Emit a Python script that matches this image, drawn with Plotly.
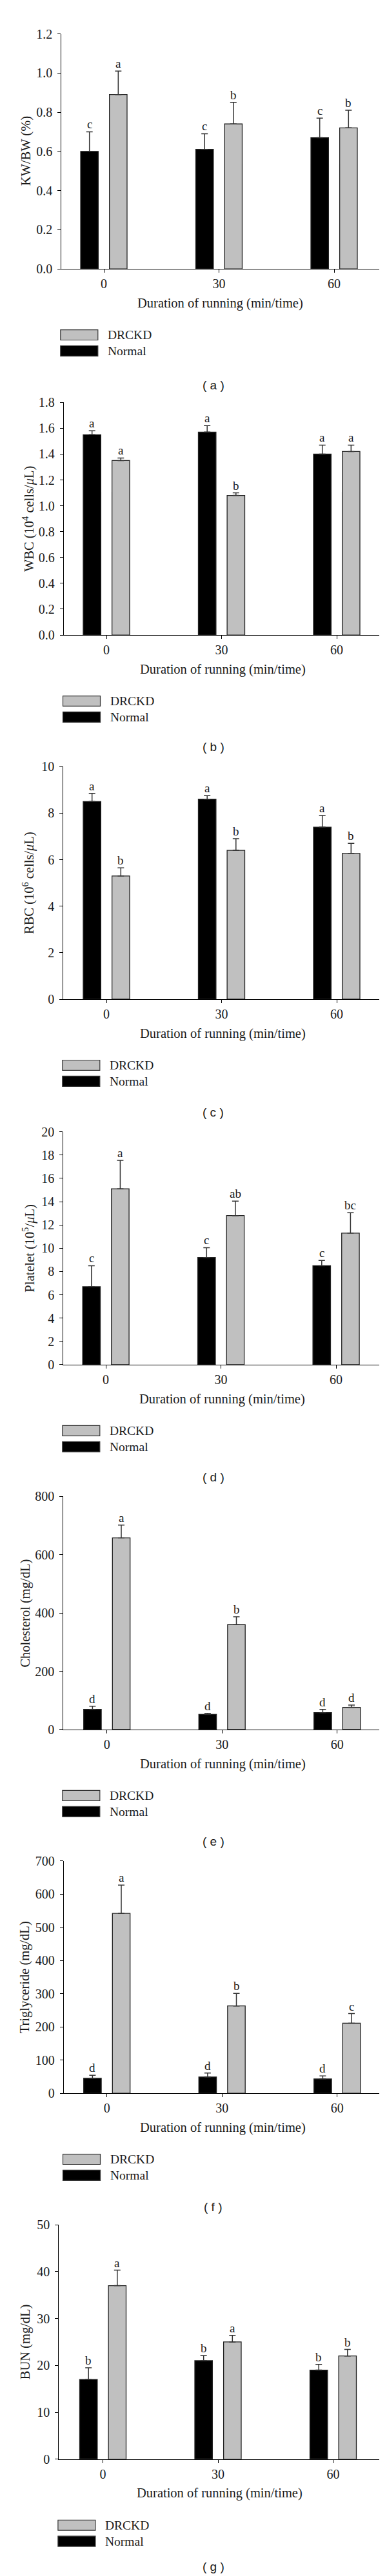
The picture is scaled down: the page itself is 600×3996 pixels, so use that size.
import plotly.graph_objects as go

# ---------------- data ----------------
durations = [0, 30, 60]
series_names = ["Normal", "DRCKD"]
panel_letters = ["a", "b", "c", "d", "e", "f", "g"]

kwbw_normal = [0.60, 0.61, 0.67]
kwbw_normal_err = [0.10, 0.08, 0.10]
kwbw_drckd = [0.89, 0.74, 0.72]
kwbw_drckd_err = [0.12, 0.11, 0.09]
kwbw_normal_sig = ["c", "c", "c"]
kwbw_drckd_sig = ["a", "b", "b"]

wbc_normal = [1.55, 1.57, 1.40]
wbc_normal_err = [0.03, 0.05, 0.07]
wbc_drckd = [1.35, 1.08, 1.42]
wbc_drckd_err = [0.02, 0.02, 0.05]
wbc_normal_sig = ["a", "a", "a"]
wbc_drckd_sig = ["a", "b", "a"]

rbc_normal = [8.50, 8.60, 7.40]
rbc_normal_err = [0.35, 0.15, 0.50]
rbc_drckd = [5.30, 6.40, 6.27]
rbc_drckd_err = [0.35, 0.50, 0.43]
rbc_normal_sig = ["a", "a", "a"]
rbc_drckd_sig = ["b", "b", "b"]

plt_normal = [6.7, 9.2, 8.5]
plt_normal_err = [1.8, 0.85, 0.45]
plt_drckd = [15.1, 12.8, 11.3]
plt_drckd_err = [2.45, 1.25, 1.75]
plt_normal_sig = ["c", "c", "c"]
plt_drckd_sig = ["a", "ab", "bc"]

chol_normal = [69, 52, 58]
chol_normal_err = [11, 4, 11]
chol_drckd = [658, 360, 76]
chol_drckd_err = [44, 27, 8]
chol_normal_sig = ["d", "d", "d"]
chol_drckd_sig = ["a", "b", "d"]

tg_normal = [45, 49, 43]
tg_normal_err = [9, 12, 9]
tg_drckd = [542, 263, 211]
tg_drckd_err = [85, 38, 29]
tg_normal_sig = ["d", "d", "d"]
tg_drckd_sig = ["a", "b", "c"]

bun_normal = [17.0, 21.0, 19.0]
bun_normal_err = [2.5, 1.1, 1.2]
bun_drckd = [37.0, 25.0, 22.0]
bun_drckd_err = [3.3, 1.4, 1.4]
bun_normal_sig = ["b", "b", "b"]
bun_drckd_sig = ["a", "a", "b"]

y_titles = [
    "KW/BW (%)",
    "WBC (10<sup>4</sup> cells/<i>μ</i>L)",
    "RBC (10<sup>6</sup> cells/<i>μ</i>L)",
    "Platelet (10<sup>5</sup>/<i>μ</i>L)",
    "Cholesterol (mg/dL)",
    "Triglyceride (mg/dL)",
    "BUN (mg/dL)",
]
y_max = [1.2, 1.8, 10, 20, 800, 700, 50]
y_dtick = [0.2, 0.2, 2, 2, 200, 100, 10]
y_fmt = [".1f", ".1f", "d", "d", "d", "d", "d"]
x_title = "Duration of running (min/time)"

panels = [
    (kwbw_normal, kwbw_normal_err, kwbw_normal_sig, kwbw_drckd, kwbw_drckd_err, kwbw_drckd_sig),
    (wbc_normal, wbc_normal_err, wbc_normal_sig, wbc_drckd, wbc_drckd_err, wbc_drckd_sig),
    (rbc_normal, rbc_normal_err, rbc_normal_sig, rbc_drckd, rbc_drckd_err, rbc_drckd_sig),
    (plt_normal, plt_normal_err, plt_normal_sig, plt_drckd, plt_drckd_err, plt_drckd_sig),
    (chol_normal, chol_normal_err, chol_normal_sig, chol_drckd, chol_drckd_err, chol_drckd_sig),
    (tg_normal, tg_normal_err, tg_normal_sig, tg_drckd, tg_drckd_err, tg_drckd_sig),
    (bun_normal, bun_normal_err, bun_normal_sig, bun_drckd, bun_drckd_err, bun_drckd_sig),
]

# ---------------- layout geometry (pixels) ----------------
W, H = 600, 3996
plot_top = [33.7, 608.6, 1176.7, 1746.3, 2315.2, 2883.6, 3451.0]
plot_bottom = [400.3, 971.4, 1539.5, 2109.5, 2678.7, 3246.0, 3816.8]
plot_left = [87.3, 91.0, 90.3, 90.3, 90.3, 91.0, 83.4]
tick0_px = [153.0, 157.0, 157.0, 156.1, 157.7, 157.7, 151.5]
ytitle_x = [32.5, 36.4, 36.4, 36.4, 31.4, 31.4, 31.4]
xtitle_x = [333, 337, 337, 336, 337, 337, 332.5]
label_y = [581.7, 1145.5, 1715.5, 2285.5, 2853.6, 3423.0, 3984.0]
plot_right = 580.0
px_per_unit = 5.95
BARGAP = 0.5
BARGROUPGAP = 0.387

SERIF = "Liberation Serif, Times New Roman, serif"
SANS = "Liberation Sans, Arial, sans-serif"
TXT = "#1a1a1a"
GRAY = "#c0c0c0"
EDGE = "#222222"


def px(x):
    return x / W


def py(y):
    return 1 - y / H


fig = go.Figure()
annotations = []
shapes = []

slot = 30 * (1 - BARGAP) / 2
offsets = [-slot / 2, slot / 2]
colors = ["black", GRAY]

for i, p in enumerate(panels):
    k = "" if i == 0 else str(i + 1)
    xa, ya = "x" + k, "y" + k
    vals = [(p[0], p[1], p[2]), (p[3], p[4], p[5])]
    for s, (v, e, sig) in enumerate(vals):
        fig.add_trace(go.Bar(
            x=durations, y=v, name=series_names[s], xaxis=xa, yaxis=ya,
            showlegend=False,
            marker=dict(color=colors[s], line=dict(color=EDGE, width=1.3)),
            error_y=dict(type="data", array=e, arrayminus=[0] * len(e), symmetric=False,
                         color="#333333", thickness=1.5, width=5),
        ))
        for d, val, err, letter in zip(durations, v, e, sig):
            annotations.append(dict(
                x=d + offsets[s], y=val + err, xref=xa, yref=ya, text=letter,
                showarrow=False, xanchor="center", yanchor="bottom", yshift=-1,
                font=dict(family=SERIF, size=19, color=TXT),
            ))

    lo = -(tick0_px[i] - plot_left[i]) / px_per_unit
    hi = (plot_right - tick0_px[i]) / px_per_unit
    axis_common = dict(showline=True, linecolor="black", linewidth=1.3, ticks="outside",
                       ticklen=5, tickwidth=1.2, tickcolor="black", showgrid=False,
                       zeroline=False, tickfont=dict(family=SERIF, size=20, color=TXT))
    fig.layout["xaxis" + k] = dict(
        domain=[px(plot_left[i]), px(plot_right)], range=[lo, hi], anchor=ya,
        tickmode="array", tickvals=durations, ticktext=[str(d) for d in durations],
        **axis_common)
    fig.layout["yaxis" + k] = dict(
        domain=[py(plot_bottom[i]), py(plot_top[i])], range=[0, y_max[i]], anchor=xa,
        dtick=y_dtick[i], tick0=0, tickformat=y_fmt[i], ticklabelstandoff=4,
        **axis_common)

    # y title
    annotations.append(dict(
        x=px(ytitle_x[i]), y=py((plot_top[i] + plot_bottom[i]) / 2), xref="paper", yref="paper",
        text=y_titles[i], textangle=-90, showarrow=False, xanchor="center", yanchor="middle",
        font=dict(family=SERIF, size=20.5, color=TXT)))
    # x title
    annotations.append(dict(
        x=px(xtitle_x[i]), y=py(plot_bottom[i] + 53.5), xref="paper", yref="paper",
        text=x_title, showarrow=False, xanchor="center", yanchor="middle",
        font=dict(family=SERIF, size=20.5, color=TXT)))
    # legend (DRCKD on top, Normal below)
    bl = plot_left[i] - 1.5
    for j, (nm, col) in enumerate([(series_names[1], GRAY), (series_names[0], "black")]):
        top = plot_bottom[i] + 95 + 25 * j
        shapes.append(dict(type="rect", xref="paper", yref="paper",
                           x0=px(bl), x1=px(bl + 58), y0=py(top + 16), y1=py(top),
                           fillcolor=col, line=dict(color="#333333", width=1.2)))
        annotations.append(dict(
            x=px(bl + 71), y=py(top + 8), xref="paper", yref="paper", text=nm,
            showarrow=False, xanchor="left", yanchor="middle",
            font=dict(family=SERIF, size=19.5, color=TXT)))
    # panel label
    annotations.append(dict(
        x=px(322.6), y=py(label_y[i]), xref="paper", yref="paper",
        text="( " + panel_letters[i] + " )", showarrow=False, xanchor="center", yanchor="middle",
        font=dict(family=SANS, size=19, color=TXT)))

fig.update_layout(
    width=W, height=H, margin=dict(l=0, r=0, t=0, b=0),
    paper_bgcolor="white", plot_bgcolor="white",
    barmode="group", bargap=BARGAP, bargroupgap=BARGROUPGAP,
    annotations=annotations, shapes=shapes, showlegend=False,
)

fig.write_html("out.html")
